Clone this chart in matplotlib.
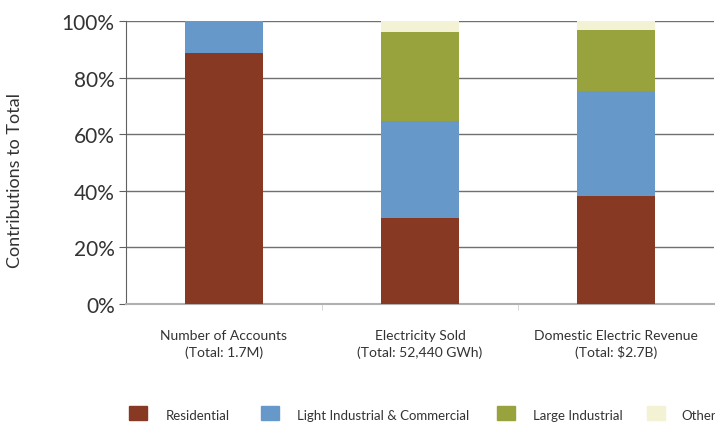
import numpy as np
import matplotlib.pyplot as plt
from matplotlib.patches import Rectangle

plt.rcParams['font.family'] = ['Lato', 'DejaVu Sans']

# Data (percent contribution)
CATEGORIES = ["Number of Accounts\n(Total: 1.7M)",
              "Electricity Sold\n(Total: 52,440 GWh)",
              "Domestic Electric Revenue\n(Total: $2.7B)"]
SERIES = ["Residential", "Light Industrial & Commercial", "Large Industrial", "Other"]
RESIDENTIAL = [88.7, 30.5, 38.3]
LIGHT_IND = [11.3, 34.2, 37.1]
LARGE_IND = [0.0, 31.4, 21.4]
OTHER = [0.0, 3.9, 3.2]
COLORS = ["#883924", "#6699C9", "#98A33E", "#F3F2D4"]
TEXT = "#333333"

fig = plt.figure(figsize=(7.15, 4.27), dpi=100)
ax = fig.add_axes([0.176, 0.286, 0.823, 0.662])

x = np.arange(len(CATEGORIES))
bottom = np.zeros(len(CATEGORIES))
for vals, color, name in zip([RESIDENTIAL, LIGHT_IND, LARGE_IND, OTHER], COLORS, SERIES):
    ax.bar(x, vals, width=0.40, bottom=bottom, color=color, label=name, zorder=3)
    bottom += np.array(vals)

ax.set_xlim(-0.5, 2.5)
ax.set_ylim(0, 100)
ax.set_yticks(np.arange(0, 101, 20))
ax.set_yticklabels([f"{v}%" for v in range(0, 101, 20)], fontsize=15, color=TEXT)
ax.yaxis.grid(True, color="#707070", linewidth=1.0)
ax.set_axisbelow(True)
ax.tick_params(axis='y', length=5, color="#606060", pad=3)

ax.set_xticks(x)
ax.set_xticklabels(CATEGORIES, fontsize=10, color=TEXT, linespacing=1.4)
ax.tick_params(axis='x', length=0, pad=18)
ax.set_xticks([0.5, 1.5], minor=True)
ax.tick_params(axis='x', which='minor', length=4, color="#d0d0d0")

fig.text(15 / 715, (427 - 181) / 427, "Contributions to Total", fontsize=13,
         color=TEXT, rotation=90, ha='center', va='center')

for side in ['top', 'right']:
    ax.spines[side].set_visible(False)
ax.spines['left'].set_color("#606060")
ax.spines['bottom'].set_color("#b0b0b0")
ax.spines['bottom'].set_linewidth(1.5)

# Legend row (manual, like the original)
box_x = [129, 261, 497, 647]
text_x = [166, 297, 533, 681]
for bx, tx, color, name in zip(box_x, text_x, COLORS, SERIES):
    fig.patches.append(Rectangle((bx / 715, (427 - 421) / 427), 18 / 715, 14 / 427,
                                 transform=fig.transFigure, color=color))
    fig.text(tx / 715, (427 - 420) / 427, name, fontsize=9.5, color=TEXT,
             va='baseline', ha='left')

fig.savefig("out.png", dpi=100)
